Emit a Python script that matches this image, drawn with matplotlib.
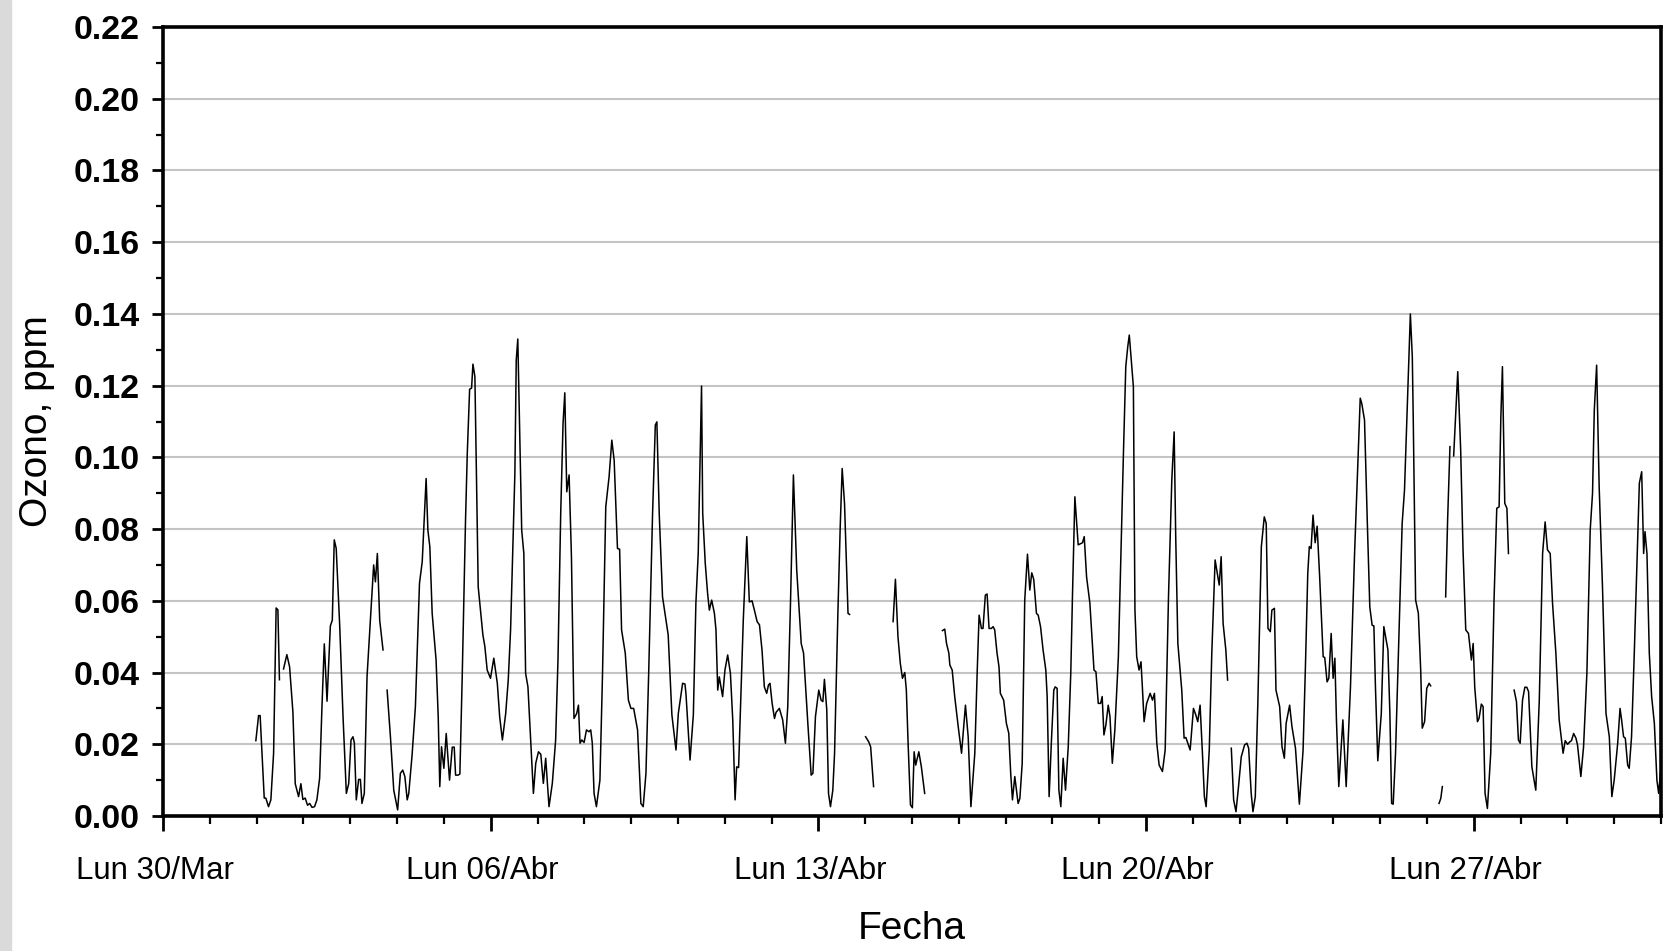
import numpy as np
import matplotlib
matplotlib.use('Agg')
from matplotlib import pyplot as plt
from matplotlib.patches import Rectangle
from matplotlib.ticker import MultipleLocator, FixedLocator
from matplotlib.transforms import ScaledTranslation

plt.rcParams['font.family'] = ['Liberation Sans', 'DejaVu Sans']

#%% datos: horas desde Lun 30/Mar 00:00, ozono en ppm (nan = hueco en la serie)
nan = np.nan
horas = [
    47.6, 49.0, 49.8, 51.9, 52.7, 54.1, 55.3, 56.7, 58.0, 58.9, 59.7, nan,
    61.8, 63.5, 64.9, 66.6, 67.8, 69.5, 70.7, 71.7, 72.9, 74.1, 75.2, 76.4, 77.7, 78.9, 80.3, 81.5, 82.7, 84.1, 85.8, 86.8,
    87.8, 88.8, 90.6, 92.3, 94.0, 95.2, 96.4, 97.4, 98.1, 99.1, 100.3, 101.2, 102.0, 103.2, 104.6, 106.3, 108.0, 108.9,
    109.9, 111.1, 112.8, nan,
    114.9, 116.6, 118.3, 120.3, 121.7, 122.9, 124.0, 125.2, 126.0, 127.7,
    129.4, 131.5, 132.9, 134.9, 135.8, 136.8, 138.0, 140.0, 141.1, 141.9,
    142.8, 144.0, 145.2, 146.9, 148.3, 149.3, 150.0, 151.3, 152.2, 153.4,
    155.1, 156.0, 157.2, 158.2, 158.9, 159.9, 161.6, 164.0, 165.0, 166.2,
    167.9, 169.6, 171.4, 172.6, 174.0, 175.7, 177.0, 178.2, 179.4, 180.4,
    181.1, 181.9, 183.9, 185.0, 185.9, 187.1, 188.5, 189.9, 191.1, 192.5,
    193.7, 195.0, 196.2, 197.9, 199.6, 201.3, 202.5, 203.9, 205.1, 206.0,
    207.0, 208.2, 209.4, 210.7, 212.1, 213.0, 213.8, 214.7, 215.9, 217.1,
    218.4, 219.3, 220.1, 221.0, 222.2, 224.0, 225.3, 227.0, 228.7, 230.1,
    231.3, 233.0, 234.1, 235.1, 237.0, 238.6, 239.9, 241.3, 243.3, 245.0,
    246.2, 247.6, 249.0, 251.0, 252.4, 253.2, 254.4, 256.1, 259.0, 260.9,
    263.0, 264.2, 266.4, 267.6, 268.1, 270.2, 271.9, 273.2, 274.4, 276.1,
    276.7, 278.0, 279.2, 280.1, 281.3, 282.7, 283.5, 284.4, 285.2, 286.9,
    288.1, 289.5, 290.9, 292.1, 293.3, 294.1, 295.1, 296.3, 297.5, 299.3,
    300.6, 302.0, 303.2, 304.6, 305.8, 307.1, 308.3, 309.5, 310.4, 311.2,
    312.3, 313.5, 314.3, 316.0, 317.7, 319.1, 320.3, 321.7, 323.2, 324.9,
    327.2, 328.4, 330.6, 332.3, 333.2, 334.5, 336.2, 337.4, 338.3, 339.1,
    340.3, 341.2, 342.2, 343.4, 344.3, 346.0, 347.2, 348.2, 349.4, 351.2,
    352.0, nan,
    360.2, 361.8, 362.8, 364.3, nan,
    374.3, 375.5, 376.8, 378.0, 379.1, 380.3, 381.1, 382.0, 383.2, 384.2, 385.1, 385.9, 387.5, 388.8, 390.5, nan,
    399.6, 400.8, 401.7, 402.9, 403.4, 404.6, 405.9, 407.7, 409.4, 411.4,
    412.8, 414.2, 416.2, 417.4, 418.4, 419.6, 420.4, 421.6, 422.5, 423.5,
    424.7, 425.6, 426.4, 427.6, 428.6, 429.3, 431.0, 432.4, 433.6, 434.6,
    435.5, 436.7, 438.4, 439.3, 440.5, 441.8, 443.2, 444.4, 445.4, 446.4,
    447.8, 448.7, 449.9, 451.2, 452.6, 453.3, 454.3, 455.5, 456.7, 457.4,
    458.4, 459.3, 460.3, 461.5, 462.7, 464.1, 465.4, 466.3, 467.5, 469.2,
    470.6, 471.4, 472.3, 473.5, 475.2, 477.3, 478.3, 479.5, 480.7, 481.5,
    482.4, 483.4, 484.6, 485.5, 486.7, 488.0, 489.8, 491.5, 492.4, 493.6,
    494.6, 495.4, 497.5, 498.3, 499.2, 500.4, 501.4, 502.1, 503.0, 504.3,
    506.1, 507.3, 508.3, 509.5, 510.7, 512.4, 513.8, 515.5, 517.2, 518.4,
    519.2, 520.3, 522.3, 523.5, 524.4, 526.6, 528.3, 529.5, 530.5, 531.7,
    532.9, 533.9, 534.8, 536.4, 537.7, 539.4, 541.5, 542.5, 543.5, 544.9,
    545.8, nan,
    547.7, 548.9, 550.1, 551.4, 552.8, 554.5, 555.7, 556.6, 557.9, 558.8,
    560.0, 561.3, 563.1, 564.6, 565.6, 566.5, 567.7, 568.5, 569.8, 570.6,
    572.5, 573.7, 574.9, 575.8, 577.6, 578.8, 580.6, 582.6, 584.5, 585.7,
    586.9, 587.7, 588.6, 589.6, 590.7, 591.7, 593.0, 594.8, 595.6, 596.8,
    597.7, 598.9, 599.9, 600.8, 601.6, 602.8, 604.9, 606.6, 608.8, 610.9,
    612.6, 613.8, 614.6, 616.0, 617.4, 618.7, 619.9, 620.8, 621.6, 622.8,
    624.6, 625.9, 628.0, 629.0, 629.9, 630.7, 631.9, 634.1, 635.3, 636.5,
    639.5, 640.5, 641.0, 642.2, 643.6, 644.8, 645.6, 646.8, 647.9, 649.1,
    649.9, nan,
    654.2, 655.1, 655.9, nan,
    657.6, 658.6, 659.8, nan,
    661.7, 663.8, 665.3, 666.5, 667.9, 669.3, 670.8, 671.7, 672.5, 673.9,
    674.7, 675.9, 676.8, 677.8, 679.0, 680.7, 682.4, 683.8, 685.0, 685.9,
    686.7, 687.9, 689.0, 689.8, nan,
    692.7, 693.9, 694.9, 695.8, 697.0, 698.2, 699.2, 700.1, 701.8, 703.8,
    705.6, 707.3, 708.6, 709.8, 711.2, 712.4, 714.1, 715.8, 717.0, 717.8,
    718.9, 720.1, 721.3, 722.1, 723.2, 724.4, 725.2, 726.9, 728.3, 730.0,
    731.7, 732.9, 733.8, 735.0, 736.3, 738.0, 739.8, 741.5, 742.8, 744.0,
    745.8, 747.0, 747.8, 748.8, 749.7, 750.9, 751.7, 752.9, 754.3, 755.7,
    756.9, 758.1, 759.1, 759.8, 760.8, 762.0, 763.2, 764.6, 765.9, 766.8,
    767.7,
]
ozono = [
    .021, .028, .028, .005, .005, .0026, .0045, .0175, .058, .0575, .038, nan,
    .041, .045, .0416, .029, .009, .0054, .009, .0046, .005, .003, .0035, .0024, .0026, .0045, .0105, .0305, .048, .032, .053, .0546,
    .077, .0746, .053, .0277, .0063, .009, .0212, .0221, .0204, .0045, .0102, .0102, .0035, .0063, .0388, .0546, .070, .0653,
    .0732, .0546, .0463, nan,
    .0351, .0221, .0072, .0017, .0119, .0128, .011, .0045, .0063, .017,
    .0305, .0649, .0709, .0941, .0797, .0751, .0565, .0435, .0277, .0082,
    .0193, .0133, .023, .010, .0192, .0192, .0114, .0114, .0117, .0388,
    .0825, .1011, .119, .1193, .126, .1225, .0639, .0505, .0473, .0407,
    .0384, .044, .037, .0277, .0212, .0286, .0379, .0519, .0751, .0955,
    .1271, .133, .0797, .0732, .0398, .036, .0212, .0063, .0147, .0179,
    .0172, .0091, .0161, .0026, .0091, .0212, .0435, .0844, .1095, .118,
    .0904, .0951, .0723, .0272, .0286, .0309, .0203, .0212, .0205, .024,
    .0235, .024, .0203, .0063, .0026, .010, .0388, .0862, .0946, .1048,
    .0992, .0746, .0744, .0519, .0454, .0323, .030, .030, .024, .0035,
    .0026, .0119, .0398, .0844, .109, .1099, .0844, .0611, .0505, .0282,
    .0184, .0286, .037, .0368, .0342, .0156, .0282, .0593, .0732, .1199,
    .0844, .0705, .0621, .0574, .0602, .0565, .0519, .0351, .0388, .0333,
    .0407, .0449, .0398, .0268, .0045, .0137, .0135, .0342, .0546, .0779,
    .0597, .060, .0574, .0542, .0533, .0463, .036, .0342, .0365, .037,
    .0314, .0272, .0289, .030, .0268, .0203, .0305, .0593, .0951, .0686,
    .0481, .0454, .0258, .0114, .0119, .0277, .0351, .0323, .0319, .0381,
    .0296, .0063, .0026, .0072, .0175, .0565, .0807, .0969, .0872, .0565,
    .0562, nan,
    .0221, .0207, .0193, .0082, nan,
    .0542, .066, .050, .0426, .0384, .040, .0351, .0203, .0031, .0023, .0179, .0142, .0179, .0137, .0063, nan,
    .0517, .0521, .0481, .0454, .0421, .0407, .0333, .0249, .0175, .0309,
    .0221, .0026, .0175, .0398, .056, .0523, .0523, .0616, .0619, .0523,
    .0523, .0528, .0519, .0454, .0416, .0342, .0323, .0258, .0231, .0119,
    .0045, .011, .0035, .0049, .0147, .0602, .0730, .063, .0678, .066,
    .0565, .056, .0528, .0463, .0407, .0333, .0054, .0212, .0351, .036,
    .0356, .0072, .0026, .0161, .0072, .0193, .0398, .0621, .089, .0756,
    .076, .0762, .0779, .0667, .0593, .0407, .0402, .0314, .0314, .0333,
    .0226, .0254, .0309, .0277, .0147, .024, .0444, .0816, .1011, .1253,
    .1308, .1341, .1197, .0574, .0444, .0407, .043, .036, .0263, .0314,
    .0342, .0323, .0342, .0203, .0142, .0124, .0184, .0611, .0937, .1071,
    .0779, .0481, .0351, .0217, .0219, .0184, .030, .0282, .0263, .0309,
    .0175, .0054, .0026, .0184, .0454, .0714, .0644, .0723, .0537, .0463,
    .0379, nan,
    .0189, .0045, .0012, .0082, .0165, .0198, .0203, .0189, .0063, .0012,
    .0054, .0314, .0751, .0834, .0816, .0523, .0514, .0574, .0579, .0351,
    .0305, .0193, .0161, .0258, .0309, .0249, .0189, .0033, .0184, .0416,
    .0676, .0751, .0746, .0839, .0762, .0808, .0667, .0444, .0442, .0374,
    .0384, .0509, .0384, .044, .0268, .0082, .0268, .0082, .036, .0732,
    .0983, .1165, .115, .1104, .0825, .0583, .0532, .053, .036, .0154,
    .0286, .0528, .0463, .0286, .0035, .0033, .0175, .0583, .0816, .0909,
    .140, .128, .110, .0602, .0565, .0407, .0245, .0263, .0356, .037,
    .0363, nan,
    .0035, .0049, .0082, nan,
    .0611, .0825, .103, nan,
    .1004, .1239, .102, .0742, .0519, .0509, .0435, .0481, .036, .0263,
    .0272, .0312, .0305, .0063, .0021, .0175, .0602, .0858, .0862, .1113,
    .1253, .0872, .0858, .0732, nan,
    .0351, .0319, .0212, .0203, .0323, .0359, .0359, .0347, .0137, .0072,
    .0323, .0732, .082, .0742, .0732, .0593, .0454, .0268, .0212, .0175,
    .021, .020, .0207, .021, .023, .0217, .0198, .011, .0193, .0398,
    .0797, .090, .1132, .1257, .0918, .0639, .0286, .0221, .0054, .010,
    .0203, .030, .0268, .0221, .0217, .0142, .0133, .0221, .0454, .0705,
    .0928, .096, .0732, .0793, .0732, .0454, .0333, .0258, .010, .0063,
    .0119,
]
semanas = [0, 168, 336, 504, 672]
etiquetas = ['Lun 30/Mar', 'Lun 06/Abr', 'Lun 13/Abr', 'Lun 20/Abr', 'Lun 27/Abr']

horas = np.array(horas)
ozono = np.array(ozono)

#%% figura
fig = plt.figure(figsize=(16.72, 9.51), dpi=100)
fig.add_artist(Rectangle((0, 0), 11/1672, 1, transform=fig.transFigure, color='#dadada', zorder=0))
ax = fig.add_axes([163/1672, 1 - 816/951, 1498/1672, 789/951])

ax.plot(horas, ozono, color='black', lw=1.1)

ax.set_xlim(0, 768)
ax.set_ylim(0, 0.22)
ax.xaxis.set_major_locator(FixedLocator(semanas))
ax.set_xticklabels(etiquetas)
ax.xaxis.set_minor_locator(MultipleLocator(24))
ax.yaxis.set_major_locator(MultipleLocator(0.02))
ax.yaxis.set_minor_locator(MultipleLocator(0.01))
ax.yaxis.set_major_formatter(matplotlib.ticker.FormatStrFormatter('%.2f'))

ax.yaxis.grid(True, color='#c4c4c4', lw=1.5)
ax.set_axisbelow(True)
for s in ax.spines.values():
    s.set_linewidth(2.6)

ax.tick_params(axis='x', which='major', direction='out', length=11, width=2, labelsize=22.5, pad=18)
ax.tick_params(axis='x', which='minor', direction='out', length=6, width=1.6)
ax.tick_params(axis='y', which='major', direction='out', length=8, width=2, labelsize=24.5, pad=9)
ax.tick_params(axis='y', which='minor', direction='out', length=5, width=1.6)
for t in ax.get_yticklabels():
    t.set_fontweight('bold')
# etiquetas del eje x un poco desplazadas a la izquierda, como en el original
desp = ScaledTranslation(-6/72, 0, fig.dpi_scale_trans)
for t in ax.get_xticklabels():
    t.set_transform(t.get_transform() + desp)

ax.set_ylabel('Ozono, ppm', fontsize=28)
ax.set_xlabel('Fecha', fontsize=28)
ax.yaxis.set_label_coords(-0.072, 0.5)
ax.xaxis.set_label_coords(0.5, -0.121)

fig.savefig('out.png', dpi=100)
